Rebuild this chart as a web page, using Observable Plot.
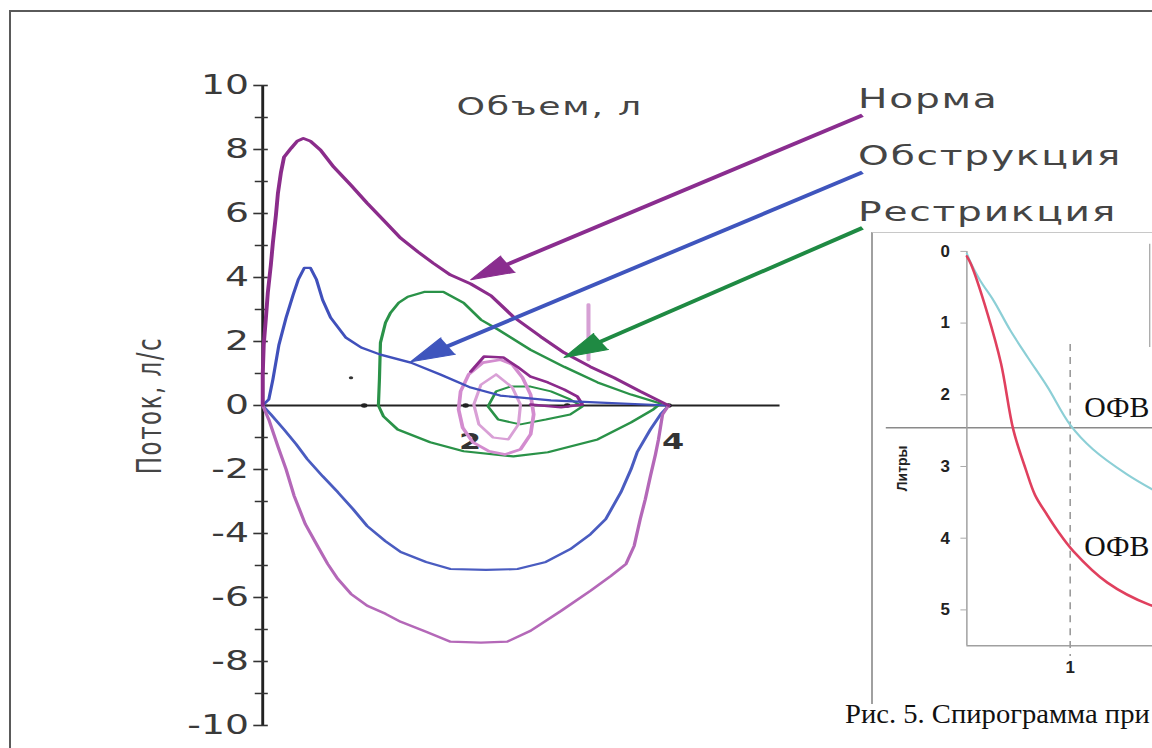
<!DOCTYPE html>
<html><head><meta charset="utf-8">
<script src="https://cdn.jsdelivr.net/npm/d3@7"></script>
<script src="https://cdn.jsdelivr.net/npm/@observablehq/plot@0.6"></script>
<style>
html,body{margin:0;padding:0;background:#fff;}
#root{position:relative;width:1152px;height:748px;overflow:hidden;background:#fff;font-family:"DejaVu Sans",sans-serif;}
#frame{position:absolute;left:9px;top:10px;width:1200px;height:800px;border-left:2px solid #5a5a5a;border-top:2px solid #5a5a5a;}
#main{position:absolute;left:0;top:0;transform-origin:0 0;}
#inset{position:absolute;left:871px;top:232px;width:300px;height:471px;border-left:2px solid #a0a0a0;border-top:1px solid #c8c8c8;background:#fff;overflow:hidden;}
#caption{position:absolute;left:845px;top:699px;font-family:"Liberation Serif","Times New Roman",serif;font-size:27px;color:#111;white-space:nowrap;transform-origin:0 0;transform:scaleX(1.06);}
</style></head><body>
<div id="root"><div id="frame"></div><div id="main"></div><div id="inset"></div><div id="caption"></div></div>
<script>
// ---------- data (volume, l ; flow, l/s) ----------
const yMajorTicks = [-10, -8, -6, -4, -2, 0, 2, 4, 6, 8, 10];
const yMinorTicks = [-9, -7, -5, -3, -1, 1, 3, 5, 7, 9];
const xTicks = [1, 2, 3, 4];
const xTickLabels = [2, 4];
const xAxisEnd = 5.1;

const normaExp = [[0,0],[0,0.97],[0.01,1.9],[0.03,2.68],[0.05,3.52],[0.08,4.39],[0.10,5.08],[0.13,5.95],[0.15,6.64],[0.18,7.29],[0.21,7.76],[0.28,8.04],[0.34,8.26],[0.40,8.35],[0.47,8.26],[0.57,7.98],[0.70,7.45],[0.87,6.88],[1.03,6.32],[1.21,5.73],[1.36,5.23],[1.53,4.8],[1.68,4.45],[1.85,4.08],[2.05,3.8],[2.25,3.43],[2.47,2.77],[2.74,2.15],[2.97,1.65],[3.23,1.21],[3.46,0.87],[3.72,0.44],[4.0,0]];
const normaInsp = [[0,0],[0.06,-0.44],[0.15,-1.28],[0.23,-1.99],[0.31,-2.83],[0.42,-3.71],[0.54,-4.39],[0.64,-4.95],[0.74,-5.42],[0.87,-5.89],[1.03,-6.26],[1.21,-6.51],[1.36,-6.76],[1.61,-7.07],[1.85,-7.38],[2.15,-7.41],[2.41,-7.38],[2.64,-7.04],[2.94,-6.42],[3.23,-5.79],[3.43,-5.33],[3.58,-4.95],[3.66,-4.39],[3.72,-3.55],[3.77,-2.93],[3.82,-2.21],[3.87,-1.53],[3.90,-1.06],[3.94,-0.28],[4.0,0]];
const obstrExp = [[0,0],[0.06,0.19],[0.10,0.81],[0.16,1.9],[0.23,2.74],[0.30,3.46],[0.35,3.93],[0.41,4.3],[0.47,4.3],[0.53,3.93],[0.59,3.3],[0.67,2.74],[0.82,2.12],[0.97,1.81],[1.16,1.59],[1.46,1.34],[1.75,0.97],[2.05,0.56],[2.34,0.31],[2.84,0.16],[3.33,0.09],[4.0,0]];
const obstrInsp = [[0,0],[0.08,-0.28],[0.21,-0.75],[0.33,-1.21],[0.44,-1.68],[0.59,-2.21],[0.74,-2.71],[0.89,-3.24],[1.03,-3.77],[1.21,-4.24],[1.36,-4.58],[1.61,-4.89],[1.85,-5.11],[2.20,-5.14],[2.51,-5.11],[2.79,-4.89],[3.03,-4.49],[3.23,-4.02],[3.38,-3.55],[3.53,-2.71],[3.63,-1.99],[3.69,-1.46],[3.82,-0.75],[3.92,-0.28],[4.0,0]];
const restrLoop = [[1.14,0],[1.15,0.81],[1.16,1.96],[1.21,2.59],[1.26,2.9],[1.34,3.21],[1.43,3.4],[1.59,3.55],[1.78,3.55],[1.98,3.21],[2.15,2.68],[2.32,2.37],[2.64,1.74],[2.97,1.21],[3.30,0.72],[3.63,0.34],[3.92,0.06],[3.85,-0.12],[3.63,-0.53],[3.30,-1.06],[2.81,-1.46],[2.47,-1.59],[1.98,-1.43],[1.65,-1.15],[1.33,-0.75],[1.19,-0.34],[1.14,0]];
const pinkOuter = [[2.34,1.43],[2.17,1.34],[2.03,0.97],[1.95,0.44],[1.93,-0.12],[1.97,-0.69],[2.07,-1.15],[2.23,-1.43],[2.39,-1.53],[2.54,-1.37],[2.64,-0.9],[2.67,-0.28],[2.64,0.34],[2.56,0.87],[2.46,1.28],[2.34,1.43]];
const pinkInner = [[2.30,0.97],[2.15,0.65],[2.08,0.03],[2.13,-0.59],[2.27,-1.0],[2.42,-1.06],[2.52,-0.59],[2.54,0.03],[2.46,0.56],[2.30,0.97]];
const purpleTail = [[2.05,1.06],[2.18,1.53],[2.37,1.5],[2.51,1.21],[2.64,0.9],[2.81,0.72],[2.97,0.5],[3.10,0.28],[3.15,0.03],[2.94,-0.06],[2.64,0.03]];
const greenSmall = [[2.22,-0.03],[2.30,0.44],[2.44,0.59],[2.64,0.59],[2.84,0.44],[3.03,0.19],[3.15,-0.03],[3.03,-0.28],[2.79,-0.44],[2.54,-0.59],[2.32,-0.44],[2.22,-0.03]];
const pinkSpike = [[3.21,3.15],[3.21,1.43]];
const strayDots = [[0.87,0.87]];

// legend labels with arrows: label, arrow start (x1,y1), arrow tip (x2,y2)
const arrowLabels = ["Норма", "Обструкция", "Рестрикция"];
const arrowX1 = [5.91, 5.91, 5.91];
const arrowY1 = [9.07, 7.29, 5.55];
const arrowX2 = [2.05, 1.46, 2.97];
const arrowY2 = [3.93, 1.37, 1.50];

// inset spirogram (time, s ; volume, l)
const insetYTicks = [0, 1, 2, 3, 4, 5];
const insetXTicks = [1];
const insetLevel = 2.46;
const curveCyan = [[0,0.03],[0.04,0.17],[0.13,0.41],[0.26,0.69],[0.42,1.1],[0.59,1.48],[0.78,1.89],[1.0,2.42],[1.22,2.76],[1.55,3.11],[1.87,3.38]];
const curveRed = [[0,0.07],[0.04,0.18],[0.20,0.87],[0.33,1.56],[0.45,2.49],[0.57,3.04],[0.66,3.4],[0.77,3.66],[0.88,3.9],[1.03,4.18],[1.36,4.62],[1.77,4.93],[1.96,5.0]];
const insetLabels = ["ОФВ", "ОФВ"];
const insetLabelT = [1.135, 1.135];
const insetLabelV = [2.17, 4.12];
const captionText = "Рис. 5. Спирограмма при";

// ---------- main chart ----------
const S = 1.45;              // horizontal stretch of the original picture
const W = 1152 / S;
const ML = 262 / S, MT = 85, MB = 23, H = 748;
const xMax = 8.77;
const kx = (W - ML) / xMax, ky = (H - MT - MB) / 20;
const palette = {"Норма": "#8a2d8f", "Обструкция": "#3f55bd", "Рестрикция": "#1f8a43"};
const spacing = {"Норма": 1.2, "Обструкция": 1.2, "Рестрикция": 1.2, "Объем, л": 1.2, "Поток, л/с": 1.5};

const ann = arrowLabels.map((label, i) => {
  const x1 = arrowX1[i], y1 = arrowY1[i], x2 = arrowX2[i], y2 = arrowY2[i];
  const dxs = (x2 - x1) * kx, dys = (y2 - y1) * ky;
  const len = Math.hypot(dxs, dys);
  const f = 14 / len;
  return {label, x1, y1, x2, y2, xe: x2 - (x2 - x1) * f, ye: y2 - (y2 - y1) * f,
          angle: Math.atan2(dxs, dys) * 180 / Math.PI, color: palette[label]};
});

const P = d => d[0], Q = d => d[1];
const line = (data, stroke, w) => Plot.line(data, {x: P, y: Q, stroke, strokeWidth: w, strokeLinejoin: "round"});

const main = Plot.plot({
  width: W, height: H,
  marginLeft: ML, marginRight: 0, marginTop: MT, marginBottom: MB,
  x: {domain: [0, xMax], axis: null, label: null},
  y: {domain: [-10, 10], axis: null, label: null},
  color: {type: "identity"},
  style: {background: "transparent", fontFamily: "DejaVu Sans, sans-serif", overflow: "visible"},
  marks: [
    Plot.ruleY([0], {x1: 0, x2: xAxisEnd, stroke: "#222", strokeWidth: 2}),
    Plot.ruleX([0], {y1: -10, y2: 10, stroke: "#222", strokeWidth: 2}),
    Plot.axisY({ticks: yMinorTicks, tickSize: 9, dx: 4, tickFormat: () => "", stroke: "#333", strokeWidth: 1.5}),
    Plot.axisY({ticks: yMajorTicks, tickSize: 10, dx: 4, tickPadding: 3.5, fontSize: 26, fill: "#3a3a3a", stroke: "#333", strokeWidth: 1.6, tickFormat: d => String(d)}),
    Plot.dot(xTicks, {x: d => d, y: 0, r: 2.2, fill: "#222"}),
    Plot.text(xTickLabels, {x: d => d, y: 0, text: d => String(d), dy: 36, dx: 3, fontSize: 22, fontWeight: "bold", fill: "#333"}),
    Plot.dot(strayDots, {x: P, y: Q, r: 1.5, fill: "#333"}),
    line(restrLoop, "#2a9248", 2.2),
    line(greenSmall, "#2a9248", 2),
    line(pinkOuter, "#d38ccf", 2.6),
    line(pinkInner, "#d9a0d6", 2.2),
    line(purpleTail, "#8b2a8b", 2.4),
    line(pinkSpike, "#d6a0d4", 2.8),
    line(obstrInsp, "#4a5cc0", 2.2),
    line(obstrExp, "#4050bb", 2.2),
    line(normaInsp, "#b468b8", 2.3),
    line(normaExp, "#8b2c8b", 2.7),
    Plot.link(ann, {x1: "x1", y1: "y1", x2: "xe", y2: "ye", stroke: "color", strokeWidth: 3.6}),
    Plot.vector(ann, {x: "x2", y: "y2", rotate: "angle", length: 30, r: 9.5, shape: "spike", anchor: "end", fill: "color", stroke: "color", strokeWidth: 1}),
    Plot.text(ann, {x: "x1", y: "y1", text: "label", dx: -3, dy: -16, textAnchor: "start", fontSize: 27, fill: "#454545"}),
    Plot.text(["Объем, л"], {frameAnchor: "top-left", dx: 378.6 - ML, dy: 12, textAnchor: "middle", fontSize: 25, fill: "#454545"}),
    Plot.text(["Поток, л/с"], {frameAnchor: "left", dx: 103.4 - ML, dy: 0, rotate: -90, textAnchor: "middle", fontSize: 23, fill: "#454545"})
  ]
});
main.querySelectorAll("text").forEach(t => {
  const s = spacing[t.textContent];
  if (s) t.style.letterSpacing = s + "px";
});
const mainDiv = document.getElementById("main");
mainDiv.append(main);
mainDiv.style.transform = `scaleX(${S})`;

// ---------- inset spirogram ----------
const insetMarks = [
  Plot.ruleY([insetLevel], {x1: -0.78, x2: 2.1, stroke: "#8a8a8a", strokeWidth: 1.5}),
  Plot.ruleX([0], {y1: 0, y2: 5.5, stroke: "#a0a0a0", strokeWidth: 1.5}),
  Plot.ruleY([5.5], {x1: 0, x2: 2.1, stroke: "#a0a0a0", strokeWidth: 1.5}),
  Plot.ruleX(insetXTicks, {y1: 1.3, y2: 5.65, stroke: "#9a9a9a", strokeWidth: 1.6, strokeDasharray: "7,6"}),
  Plot.ruleX([1.77], {y1: -0.1, y2: 1.34, stroke: "#a0a0a0", strokeWidth: 1.2}),
  Plot.axisY({ticks: insetYTicks, tickSize: 6, tickPadding: 11, fontSize: 17, fontWeight: "bold", fill: "#222", stroke: "#aaa", tickFormat: d => String(d)}),
  Plot.text(insetXTicks, {x: d => d, y: 5.5, dy: 22, text: d => String(d), fontSize: 17, fontWeight: "bold", fill: "#222"}),
  Plot.text(["Литры"], {frameAnchor: "left", dx: -65, dy: 20, rotate: -90, textAnchor: "middle", fontSize: 14, fontWeight: "bold", fill: "#222"}),
  Plot.line(curveCyan, {x: P, y: Q, stroke: "#8ccfd6", strokeWidth: 2.2, curve: "catmull-rom"}),
  Plot.line(curveRed, {x: P, y: Q, stroke: "#e0405e", strokeWidth: 2.6, curve: "catmull-rom"}),
  Plot.text(insetLabels, {x: (d, i) => insetLabelT[i], y: (d, i) => insetLabelV[i], text: d => d, textAnchor: "start", fontSize: 30, fontFamily: "Liberation Serif, serif", fill: "#111"})
];
const inset = Plot.plot({
  width: 302, height: 471,
  marginLeft: 94, marginRight: 0, marginTop: 18, marginBottom: 56,
  x: {domain: [0, 2.0], axis: null, label: null},
  y: {domain: [0, 5.5], reverse: true, axis: null, label: null},
  style: {background: "transparent", fontFamily: "Liberation Sans, Arial, sans-serif", overflow: "visible"},
  marks: insetMarks
});
document.getElementById("inset").append(inset);
document.getElementById("caption").textContent = captionText;
</script>
</body></html>
